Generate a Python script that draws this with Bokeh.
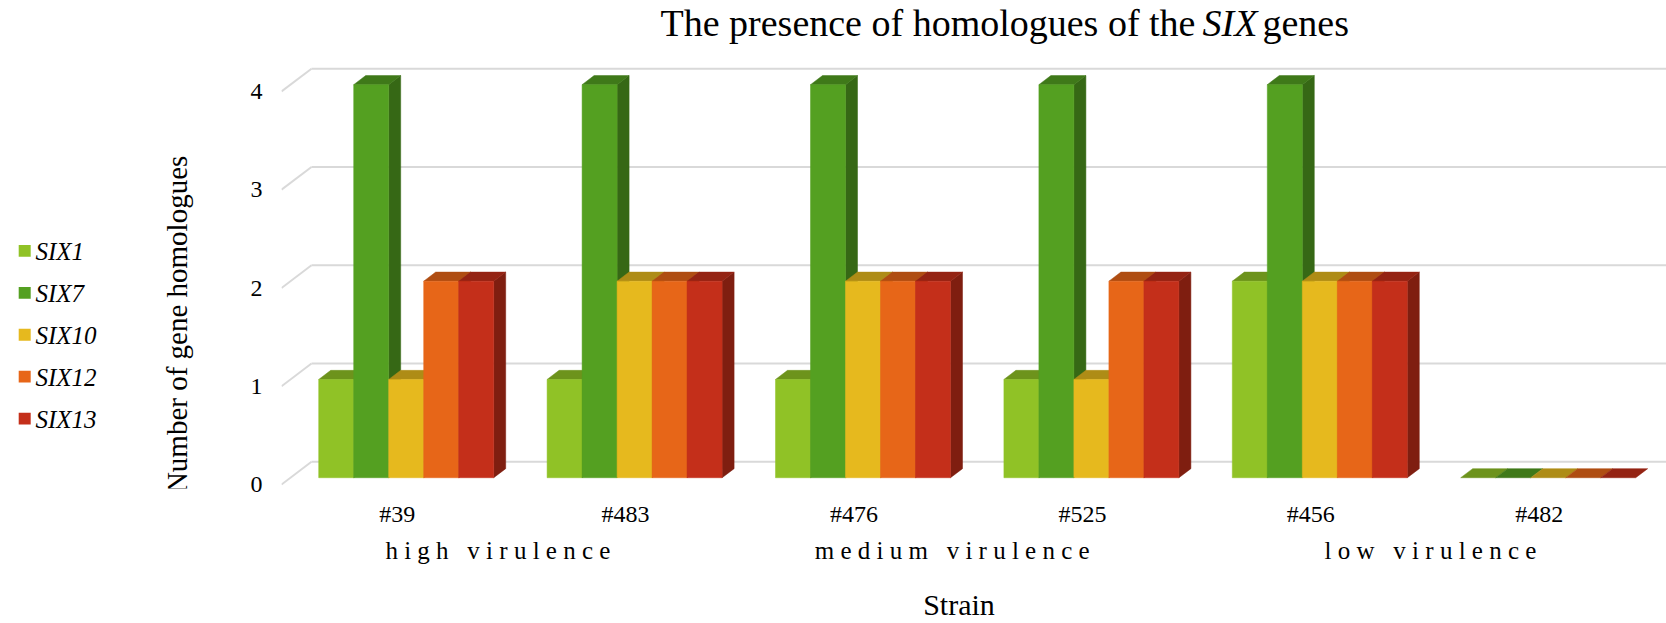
import math
from bokeh.plotting import figure
from bokeh.models import Range1d, LinearAxis, FixedTicker
from bokeh.layouts import column, row
from bokeh.core.properties import value
from bokeh.embed import file_html
from bokeh.resources import INLINE

# ---------------- data ----------------
strains = ["#39", "#483", "#476", "#525", "#456", "#482"]
groups = ["high virulence", "medium virulence", "low virulence"]
genes = ["SIX1", "SIX7", "SIX10", "SIX12", "SIX13"]
six1 = [1, 1, 1, 1, 2, 0]
six7 = [4, 4, 4, 4, 4, 0]
six10 = [1, 2, 2, 1, 2, 0]
six12 = [2, 2, 2, 2, 2, 0]
six13 = [2, 2, 2, 2, 2, 0]
series = [six1, six7, six10, six12, six13]
y_ticks = [0, 1, 2, 3, 4]
colors = ["#90C226", "#54A021", "#E6B91E", "#E76618", "#C42F1A"]
title_parts = ["The presence of homologues of the", "SIX", "genes"]
y_title = "Number of gene homologues"
x_title = "Strain"

# ---------------- page geometry ----------------
W, H = 1666, 623
TH = 55            # title strip height
LW = 200           # left strip width (legend + y title)
PFB = 493          # page y of the plot frame bottom
SERIF = "Liberation Serif"
NB = "\u00a0"

def shade(hexc, f):
    r, g, b = int(hexc[1:3], 16), int(hexc[3:5], 16), int(hexc[5:7], 16)
    return "#%02X%02X%02X" % (int(r * f), int(g * f), int(b * f))

def bare(fig):
    fig.outline_line_color = None
    fig.xgrid.visible = False
    fig.ygrid.visible = False
    return fig

def plain_axis(ax):
    ax.axis_line_color = None
    ax.major_tick_line_color = None
    ax.minor_tick_line_color = None
    ax.major_tick_out = 0
    ax.major_tick_in = 0
    ax.minor_tick_out = 0
    ax.minor_tick_in = 0

# ---------------- title strip ----------------
tf = bare(figure(width=W, height=TH, output_backend="svg", toolbar_location=None,
                 x_range=Range1d(0, W), y_range=Range1d(TH, 0),
                 x_axis_location=None, y_axis_location=None,
                 min_border=0, background_fill_color="white", border_fill_color="white"))
for txt, x, style in zip(title_parts, [660, 1202, 1262], ["normal", "italic", "normal"]):
    tf.text(x=[x], y=[22], text=[txt], text_font=value(SERIF), text_font_size="38px",
            text_font_style=style, text_color="#000000",
            text_baseline="middle", text_align="left")

# ---------------- main chart ----------------
MW, MH = W - LW, H - TH
FL = 281 - LW                 # frame left inside main figure
FB = PFB - TH                 # frame bottom inside main figure
PX_CAT = 228.4
PX_VAL = 99.4
X0 = -(396.7 - 281) / PX_CAT
X1 = X0 + (MW - FL) / PX_CAT
Y0 = -(PFB - 489.0) / PX_VAL
Y1 = Y0 + FB / PX_VAL
DX = 30.0 / PX_CAT
DY = 23.0 / PX_VAL
Z0, Z1 = 0.3, 0.7
BW = 35.0 / PX_CAT

p = bare(figure(width=MW, height=MH, output_backend="svg", toolbar_location=None,
                x_range=Range1d(X0, X1), y_range=Range1d(Y0, Y1),
                min_border_left=FL, min_border_right=0,
                min_border_top=0, min_border_bottom=MH - FB,
                background_fill_color="white", border_fill_color="white"))

# walls / gridlines
p.segment(x0=[X0 + DX] * len(y_ticks), y0=[t + DY for t in y_ticks],
          x1=[X1] * len(y_ticks), y1=[t + DY for t in y_ticks],
          line_color="#D9D9D9", line_width=2)
p.segment(x0=[X0] * len(y_ticks), y0=y_ticks,
          x1=[X0 + DX] * len(y_ticks), y1=[t + DY for t in y_ticks],
          line_color="#D9D9D9", line_width=2)

# bars
for j, (gname, vals, col) in enumerate(zip(genes, series, colors)):
    fl, fr, fb, ft = [], [], [], []
    txs, tys, sxs, sys_ = [], [], [], []
    for i, v in enumerate(vals):
        xl = i - 2.5 * BW + j * BW
        xr = xl + BW
        a, b = Z0 * DX, Z1 * DX
        c, d = Z0 * DY, Z1 * DY
        txs.append([xl + a, xr + a, xr + b, xl + b])
        tys.append([v + c, v + c, v + d, v + d])
        if v > 0:
            fl.append(xl + a); fr.append(xr + a); fb.append(c); ft.append(v + c)
            sxs.append([xr + a, xr + b, xr + b, xr + a])
            sys_.append([c, d, v + d, v + c])
    p.patches(xs=sxs, ys=sys_, fill_color=shade(col, 0.65), line_color=shade(col, 0.65), line_width=0.5)
    p.patches(xs=txs, ys=tys, fill_color=shade(col, 0.76), line_color=shade(col, 0.76), line_width=0.5)
    p.quad(left=fl, right=fr, bottom=fb, top=ft, fill_color=col, line_color=col, line_width=0.5)

# axes
ya = p.yaxis[0]
plain_axis(ya)
ya.ticker = FixedTicker(ticks=y_ticks)
ya.major_label_standoff = 19
ya.major_label_text_font = SERIF
ya.major_label_text_font_size = "24px"
ya.major_label_text_color = "#000000"

xa = p.xaxis[0]
plain_axis(xa)
xa.ticker = FixedTicker(ticks=list(range(len(strains))))
xa.major_label_overrides = {i: s for i, s in enumerate(strains)}
xa.major_label_standoff = 12
xa.major_label_text_font = SERIF
xa.major_label_text_font_size = "24px"
xa.major_label_text_color = "#000000"

group_pos = [(497.4 - 396.7) / PX_CAT, (951.7 - 396.7) / PX_CAT, (1430.0 - 396.7) / PX_CAT]
spaced = [(" " + NB + " ").join(" ".join(w) for w in g.split(" ")) for g in groups]
ga = LinearAxis(ticker=FixedTicker(ticks=group_pos))
plain_axis(ga)
ga.major_label_overrides = {gp: s for gp, s in zip(group_pos, spaced)}
ga.major_label_standoff = 7
ga.major_label_text_font = SERIF
ga.major_label_text_font_size = "25px"
ga.major_label_text_color = "#000000"
ga.axis_label = x_title + NB * 4
ga.axis_label_text_font = SERIF
ga.axis_label_text_font_size = "30px"
ga.axis_label_text_font_style = "normal"
ga.axis_label_text_color = "#000000"
ga.axis_label_standoff = 21
p.add_layout(ga, "below")

# ---------------- left strip: legend + y title ----------------
lf = bare(figure(width=LW, height=MH, output_backend="svg", toolbar_location=None,
                 x_range=Range1d(0, LW), y_range=Range1d(FB, 0),
                 x_axis_location=None, y_axis_location=None,
                 min_border_left=0, min_border_right=0,
                 min_border_top=0, min_border_bottom=MH - FB,
                 background_fill_color="white", border_fill_color="white"))
leg_y = [252.7 - TH + k * 42.4 for k in range(len(genes))]
lf.rect(x=[24.2] * len(genes), y=leg_y, width=12, height=12,
        fill_color=colors, line_color=None)
lf.text(x=[35] * len(genes), y=[yy + 1 for yy in leg_y], text=genes,
        text_font=value(SERIF), text_font_size="25px", text_font_style="italic",
        text_color="#000000", text_baseline="middle", text_align="left")
lf.text(x=[176], y=[327 - TH], text=[y_title], angle=math.pi / 2,
        text_font=value(SERIF), text_font_size="29px", text_color="#000000",
        text_baseline="middle", text_align="center")

layout = column(tf, row(lf, p, spacing=0), spacing=0)
open("out.html", "w").write(file_html(layout, INLINE))
